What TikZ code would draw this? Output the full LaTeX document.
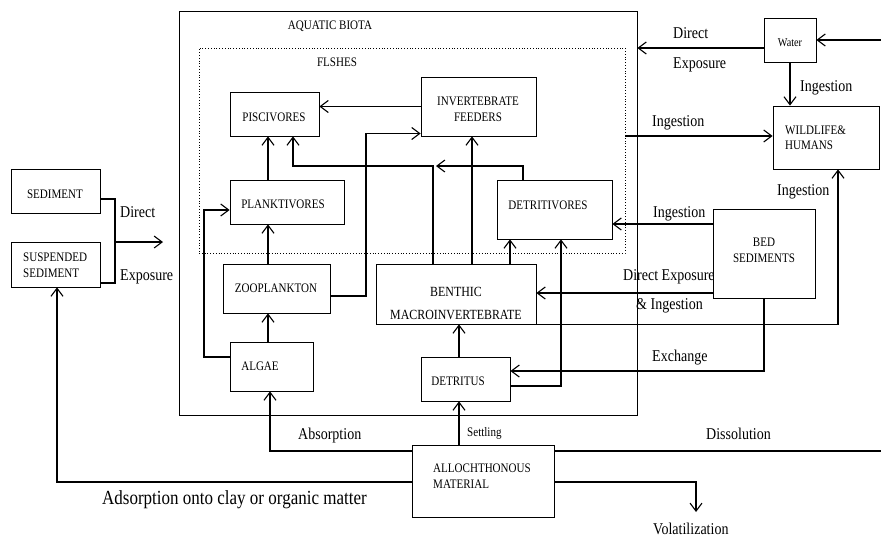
\documentclass[tikz,border=0pt]{standalone}
\usepackage{fontspec}
\setmainfont{Liberation Serif}[FakeStretch=0.85]
\usetikzlibrary{arrows.meta}
\begin{document}
\begin{tikzpicture}[x=1pt,y=-1pt,
  box/.style={draw, line width=0.8pt, inner sep=0pt},
  tx/.style={inner sep=0pt, font=\fontsize{13}{16}\selectfont},
  lbl/.style={inner sep=0pt, anchor=west, font=\fontsize{16.5}{19}\selectfont, text height=0.68em, text depth=0pt},
  arr/.style={line width=1.1pt, -{Straight Barb[length=8pt,width=12pt,line width=1.1pt]}},
  link/.style={line width=1.1pt}]
\useasboundingbox (0,0) rectangle (881,539);

% containers
\node[box, minimum width=458, minimum height=404] (biota) at (408,213) {};
\node[box, dotted, minimum width=426, minimum height=205] (fishes) at (412,150.5) {};
\node[tx] (tbiota) at (330,26) {AQUATIC BIOTA};
\node[tx] (tfishes) at (337,62) {FLSHES};

% compartments
\node[box, minimum width=89, minimum height=44] (sed) at (55.5,191) {};
\node[box, minimum width=89, minimum height=45] (susp) at (55.5,264.5) {};
\node[box, minimum width=89, minimum height=44] (pisc) at (274.5,114) {};
\node[box, minimum width=115, minimum height=59] (invf) at (478.5,106.5) {};
\node[box, minimum width=114, minimum height=44] (plank) at (287,202) {};
\node[box, minimum width=115, minimum height=59] (detv) at (554.5,209.5) {};
\node[box, minimum width=107, minimum height=49] (zoo) at (276.5,288.5) {};
\node[box, minimum width=160, minimum height=60] (benth) at (456,294) {};
\node[box, minimum width=83, minimum height=49] (algae) at (271.5,366.5) {};
\node[box, minimum width=89, minimum height=44] (detr) at (465.5,379) {};
\node[box, minimum width=52, minimum height=44] (water) at (790,40) {};
\node[box, minimum width=106, minimum height=63] (wild) at (826,137.5) {};
\node[box, minimum width=102, minimum height=89] (bed) at (764,253.5) {};
\node[box, minimum width=142, minimum height=72] (allo) at (483,481) {};

% compartment names
\node[tx] (tsed) at (55,194) {SEDIMENT};
\node[tx, anchor=west, align=left] (tsusp) at (23,265) {SUSPENDED\\SEDIMENT};
\node[tx] (tpisc) at (274,117) {PISCIVORES};
\node[tx, align=center] (tinvf) at (478,109) {INVERTEBRATE\\FEEDERS};
\node[tx] (tplank) at (283,204) {PLANKTIVORES};
\node[tx] (tdetv) at (548,205) {DETRITIVORES};
\node[tx] (tzoo) at (276,288) {ZOOPLANKTON};
\node[tx, align=center, font=\fontsize{14}{23}\selectfont] (tbenth) at (456,303.5) {BENTHIC\\MACROINVERTEBRATE};
\node[tx] (talgae) at (260,366) {ALGAE};
\node[tx] (tdetr) at (458,381) {DETRITUS};
\node[tx, font=\fontsize{12}{14}\selectfont] (twater) at (790,43) {Water};
\node[tx, anchor=west, align=left, font=\fontsize{13}{15}\selectfont] (twild) at (785,137.5) {WILDLIFE\&\\HUMANS};
\node[tx, align=center] (tbed) at (764,250) {BED\\SEDIMENTS};
\node[tx, anchor=west, align=left] (tallo) at (433,476) {ALLOCHTHONOUS\\MATERIAL};

% helper positions
\coordinate (c268) at (268,0);
\coordinate (c293) at (293,0);
\coordinate (c433) at (433,0);
\coordinate (c436) at (436,0);
\coordinate (c459) at (459,0);
\coordinate (c472) at (472,0);
\coordinate (c510) at (510,0);
\coordinate (c523) at (523,0);
\coordinate (c561) at (561,0);
\coordinate (c366) at (366,0);
\coordinate (c204) at (204,0);
\coordinate (c838) at (838,0);
\coordinate (c270) at (270,0);
\coordinate (c57) at (57,0);
\coordinate (c115) at (115,0);
\coordinate (r166) at (0,166);
\coordinate (r242) at (0,242);
\coordinate (waterin) at (881,40);
\coordinate (dissol) at (881,451);
\coordinate (volat) at (696,512);
\coordinate (expo) at (163,242);
\coordinate (a2) at ([yshift=-8]plank.west);
\coordinate (a3) at ([yshift=-27]invf.west);
\coordinate (s2) at ([yshift=-18.5]susp.east);

% food web
\draw[arr] (invf.west) -- (invf.west -| pisc.east);
\draw[arr] (plank.north -| c268) -- (pisc.south -| c268);
\draw[arr] (zoo.north -| c268) -- (plank.south -| c268);
\draw[arr] (algae.north -| c268) -- (zoo.south -| c268);
\draw[arr] ([yshift=9.5]algae.west) -| (c204 |- a2) -- (a2);
\draw[arr] ([yshift=-7.5]zoo.east) -| (c366 |- a3) -- (a3);
\draw[arr] (benth.north -| c472) -- (invf.south -| c472);
\draw[arr] (benth.north -| c433) |- (c293 |- r166) -- (pisc.south -| c293);
\draw[arr] (detv.north -| c523) |- (c436 |- r166);
\draw[arr] (benth.north -| c510) -- (detv.south -| c510);
\draw[arr] ([yshift=-7]detr.east) -| (detv.south -| c561);
\draw[arr] (detr.north -| c459) -- (benth.south -| c459);

% exchanges with the surroundings
\draw[arr] ([yshift=29.5]bed.west) coordinate (b1) -- (b1 -| detv.east);
\draw[arr] ([yshift=-39.5]bed.west) coordinate (b2) -- (b2 -| benth.east);
\draw[arr] (bed.south) |- ([yshift=8]detr.east);
\draw[arr] (benth.south east) -| (wild.south -| c838);
\draw[arr] (water.south) -- (water.south |- wild.north);
\draw[arr] ([yshift=-8]water.west) coordinate (w1) -- (w1 -| biota.east);
\draw[arr] (waterin) -- (water.east);
\draw[arr] ([yshift=14.5]fishes.east) coordinate (f1) -- (f1 -| wild.west);
\draw[arr] (allo.north -| c459) -- (detr.south -| c459);
\draw[arr] ([yshift=30]allo.west) -| (algae.south -| c270);
\draw[arr] ([yshift=-1]allo.west) -| (susp.south -| c57);
\draw[link] ([yshift=30]allo.east) -- (dissol);
\draw[arr] ([yshift=-1]allo.east) -| (volat);
\draw[link] ([yshift=-8]sed.east) -| (c115 |- s2) -- (s2);
\draw[arr] (c115 |- r242) -- (expo);

% flow labels
\node[lbl] (l1) at (673,35) {Direct};
\node[lbl] (l2) at (673,65) {Exposure};
\node[lbl] (l3) at (800,88) {Ingestion};
\node[lbl] (l4) at (652,123) {Ingestion};
\node[lbl] (l5) at (777,192) {Ingestion};
\node[lbl] (l6) at (653,214) {Ingestion};
\node[lbl] (l7) at (623,277) {Direct Exposure};
\node[lbl] (l8) at (636,306) {\& Ingestion};
\node[lbl] (l9) at (652,358) {Exchange};
\node[lbl] (l10) at (298,436) {Absorption};
\node[lbl, font=\fontsize{13}{15}\selectfont] (l11) at (467,433) {Settling};
\node[lbl] (l12) at (706,436) {Dissolution};
\node[lbl, font=\fontsize{20}{24}\selectfont] (l13) at (102,501) {Adsorption onto clay or organic matter};
\node[lbl] (l14) at (653,531) {Volatilization};
\node[lbl] (l15) at (120,214) {Direct};
\node[lbl] (l16) at (120,277) {Exposure};
\end{tikzpicture}
\end{document}
